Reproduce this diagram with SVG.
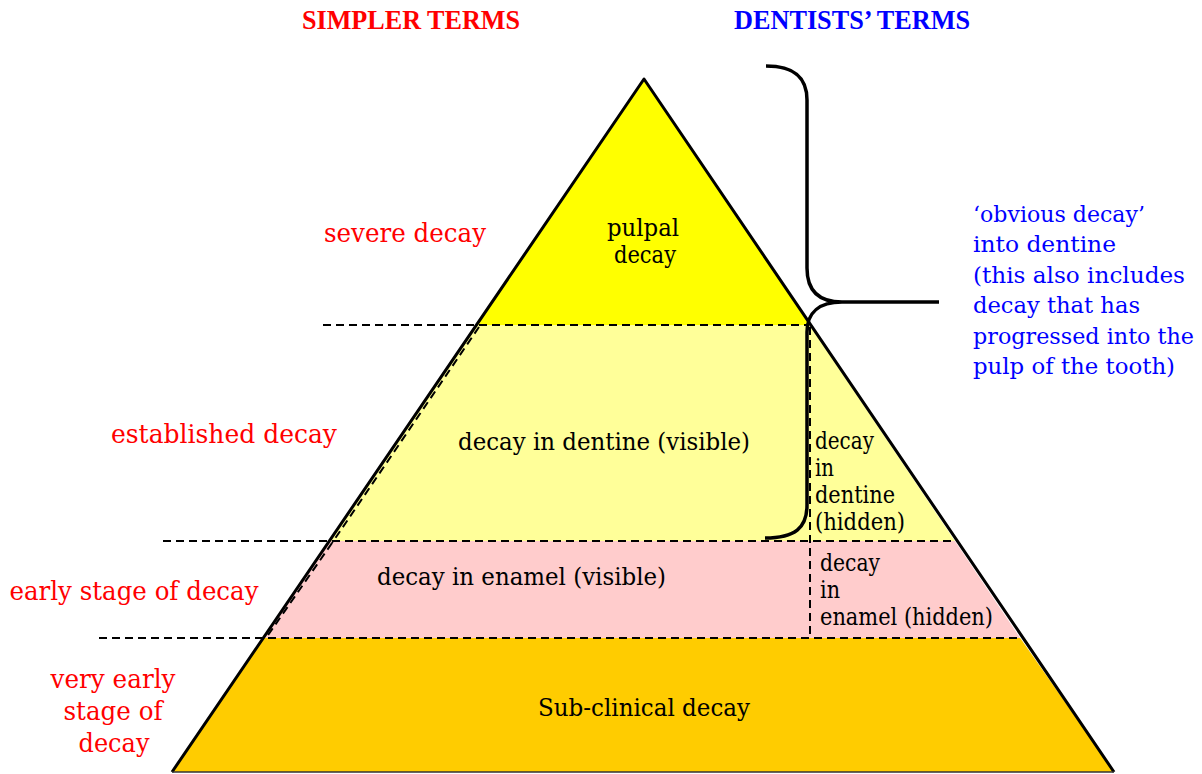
<svg xmlns="http://www.w3.org/2000/svg" width="1202" height="774" viewBox="0 0 1202 774">
<style>
.head{font-family:"Liberation Serif","Times New Roman",serif;font-weight:bold;font-size:27px}
.red{font-family:"DejaVu Serif","Liberation Serif",serif;font-size:26px;fill:#ff0000}
.blk{font-family:"DejaVu Serif","Liberation Serif",serif;font-size:24px;fill:#000}
.blu{font-family:"DejaVu Serif","Liberation Serif",serif;font-size:22.5px;fill:#0000ff}
.dash{stroke:#000;stroke-width:2;stroke-dasharray:8 5;fill:none}
.edge{stroke:#000;stroke-width:3;fill:none;stroke-linejoin:round}
</style>
<rect width="1202" height="774" fill="#fff"/>
<g id="layer-subclinical">
<polygon points="263.3,638 1020.2,638 1114,772 172,772" fill="#ffcc00"/>
<text class="blk" x="644" y="716" text-anchor="middle" textLength="212" lengthAdjust="spacingAndGlyphs">Sub-clinical decay</text>
</g>
<g id="layer-enamel">
<polygon points="329.4,541 954.9,541 1020.2,638 263.3,638" fill="#ffcccc"/>
<text class="blk" x="377" y="585" textLength="289" lengthAdjust="spacingAndGlyphs">decay in enamel (visible)</text>
<text class="blk" x="820" y="571" textLength="60" lengthAdjust="spacingAndGlyphs">decay</text>
<text class="blk" x="820" y="598" textLength="20" lengthAdjust="spacingAndGlyphs">in</text>
<text class="blk" x="820" y="625" textLength="173" lengthAdjust="spacingAndGlyphs">enamel (hidden)</text>
</g>
<g id="layer-dentine">
<polygon points="476.5,325 809.6,325 954.9,541 329.4,541" fill="#ffff99"/>
<text class="blk" x="458" y="450" textLength="292" lengthAdjust="spacingAndGlyphs">decay in dentine (visible)</text>
<text class="blk" x="815" y="449" textLength="59" lengthAdjust="spacingAndGlyphs">decay</text>
<text class="blk" x="815" y="476" textLength="19" lengthAdjust="spacingAndGlyphs">in</text>
<text class="blk" x="815" y="503" textLength="80" lengthAdjust="spacingAndGlyphs">dentine</text>
<text class="blk" x="815" y="530" textLength="90" lengthAdjust="spacingAndGlyphs">(hidden)</text>
</g>
<g id="layer-pulpal">
<polygon points="644,79 809.6,325 476.5,325" fill="#ffff00"/>
<text class="blk" x="643" y="236" text-anchor="middle" textLength="72" lengthAdjust="spacingAndGlyphs">pulpal</text>
<text class="blk" x="645" y="263" text-anchor="middle" textLength="62" lengthAdjust="spacingAndGlyphs">decay</text>
</g>
<g id="pyramid-outline">
<polyline class="edge" points="172,772 644,79 1114,772"/>
<line x1="172" y1="772" x2="1114" y2="772" stroke="#333" stroke-width="1.5"/>
</g>
<g id="connectors">
<line class="dash" x1="323" y1="325" x2="808" y2="325"/>
<line class="dash" x1="163" y1="541" x2="957" y2="541"/>
<line class="dash" x1="99" y1="638" x2="1020" y2="638"/>
<line class="dash" x1="810" y1="327" x2="810" y2="638"/>
<line class="dash" x1="479" y1="327" x2="332" y2="543" stroke-width="1.5"/>
<line class="dash" x1="332" y1="543" x2="266" y2="638" stroke-width="1.5"/>
<path d="M766,66 C797,66 807,80 807,100 L807,268 C807,292 820,302 842,302 L939,302 M842,302 C820,302 807,312 807,332 L807,505 C807,528 795,538 765,538" fill="none" stroke="#000" stroke-width="3.5"/>
</g>
<g id="simpler-terms">
<text class="head" x="411" y="29" text-anchor="middle" fill="#ff0000" textLength="218" lengthAdjust="spacingAndGlyphs">SIMPLER TERMS</text>
<text class="red" x="405" y="242" text-anchor="middle" textLength="162" lengthAdjust="spacingAndGlyphs">severe decay</text>
<text class="red" x="224" y="443" text-anchor="middle" textLength="226" lengthAdjust="spacingAndGlyphs">established decay</text>
<text class="red" x="134" y="600" text-anchor="middle" textLength="249" lengthAdjust="spacingAndGlyphs">early stage of decay</text>
<text class="red" x="113" y="688" text-anchor="middle" textLength="125" lengthAdjust="spacingAndGlyphs">very early</text>
<text class="red" x="113" y="720" text-anchor="middle" textLength="99" lengthAdjust="spacingAndGlyphs">stage of</text>
<text class="red" x="114" y="752" text-anchor="middle" textLength="71" lengthAdjust="spacingAndGlyphs">decay</text>
</g>
<g id="dentists-terms">
<text class="head" x="852" y="29" text-anchor="middle" fill="#0000ff" textLength="236" lengthAdjust="spacingAndGlyphs">DENTISTS’ TERMS</text>
<text class="blu" x="973" y="222" textLength="172" lengthAdjust="spacingAndGlyphs">‘obvious decay’</text>
<text class="blu" x="973" y="252" textLength="143" lengthAdjust="spacingAndGlyphs">into dentine</text>
<text class="blu" x="973" y="283" textLength="212" lengthAdjust="spacingAndGlyphs">(this also includes</text>
<text class="blu" x="973" y="313" textLength="167" lengthAdjust="spacingAndGlyphs">decay that has</text>
<text class="blu" x="973" y="344" textLength="221" lengthAdjust="spacingAndGlyphs">progressed into the</text>
<text class="blu" x="973" y="374" textLength="202" lengthAdjust="spacingAndGlyphs">pulp of the tooth)</text>
</g>
</svg>
